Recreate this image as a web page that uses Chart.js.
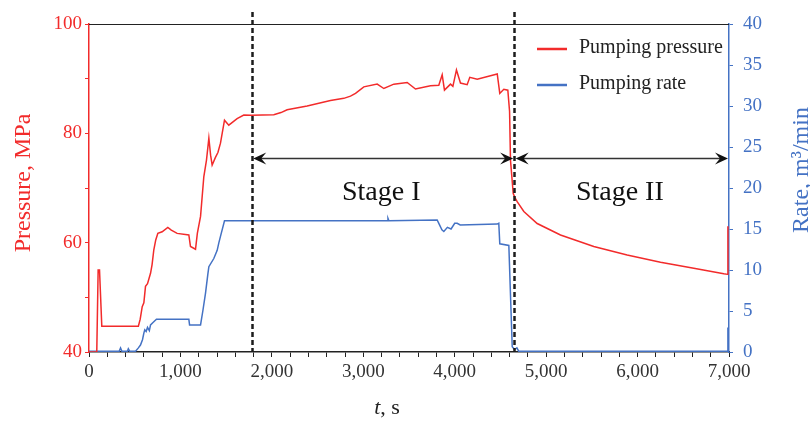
<!DOCTYPE html>
<html lang="en">
<head>
<meta charset="UTF-8">
<title>Pumping pressure and rate</title>
<style>
  body { margin: 0; background: #fff; }
  #wrap { width: 810px; height: 423px; position: relative; }
</style>
</head>
<body>
<div id="wrap"><canvas id="chart"></canvas></div>
<script src="https://cdn.jsdelivr.net/npm/chart.js@4"></script>
<script>
// pumping pressure, MPa, against time, s
const pressureT = [0, 85, 100, 115, 140, 540, 560, 582, 600, 618, 640, 673, 690, 709, 730, 753, 800, 862, 900, 964,
  1092, 1110, 1165, 1185, 1220, 1256, 1285, 1311, 1330, 1347, 1383, 1410, 1438, 1482, 1529, 1620, 1693, 1774,
  2021, 2100, 2167, 2386, 2641, 2787, 2860, 2915, 3006, 3152, 3225, 3334, 3480, 3571, 3735, 3826, 3863, 3888,
  3954, 3980, 4019, 4063, 4136, 4165, 4246, 4465, 4493, 4537, 4581, 4600, 4610, 4640, 4660, 4683, 4756, 4902,
  5157, 5521, 5886, 6251, 6615, 6943, 6985, 6988];
const pressureP = [40, 40, 55, 55, 44.7, 44.7, 46, 48.3, 49, 52, 52.5, 54.4, 56, 58.7, 60.5, 61.7, 62, 62.8, 62.3, 61.7,
  61.4, 59.3, 58.8, 61.7, 64.8, 72.1, 75.1, 79.1, 76, 74.2, 75.6, 76.5, 78.2, 82.4, 81.5, 82.7, 83.35, 83.3,
  83.4, 83.8, 84.3, 85.0, 86.0, 86.4, 86.8, 87.3, 88.5, 89.0, 88.2, 89.0, 89.3, 88.1, 88.7, 88.8, 90.7, 87.9,
  89.0, 88.6, 91.6, 89.2, 88.9, 90.25, 89.9, 90.85, 87.3, 88.05, 87.9, 84, 75.1, 69.0, 68.2, 67.5, 65.7, 63.5,
  61.4, 59.3, 57.75, 56.4, 55.3, 54.3, 54.2, 63];

// pumping rate, m3/min, against time, s
const rateT = [0, 330, 345, 360, 420, 430, 445, 509, 540, 563, 585, 600, 610, 625, 640, 660, 673, 700, 738,
  1092, 1100, 1220, 1245, 1274, 1300, 1311, 1365, 1402, 1420, 1438, 1482, 3260, 3270, 3280, 3808, 3830, 3860,
  3881, 3920, 3960, 4000, 4027, 4060, 4465, 4482, 4493, 4592, 4629, 4654, 4680, 4700, 6980, 6988];
const rateQ = [0.1, 0.1, 0.5, 0.1, 0.1, 0.4, 0.1, 0.1, 0.5, 0.85, 1.5, 2.3, 2.7, 2.5, 3.0, 2.6, 3.3, 3.6, 4.0,
  4.0, 3.3, 3.3, 5, 7.15, 9.5, 10.4, 11.4, 12.4, 13.3, 14.1, 16.0, 16.0, 16.3, 16.0, 16.1, 15.6, 14.9,
  14.7, 15.2, 15.0, 15.7, 15.7, 15.5, 15.6, 15.7, 13.2, 13.0, 0.65, 0.3, 0.5, 0.1, 0.1, 3];

const stageBounds = [1780, 4650, 7000];
const stageNames = ['Stage I', 'Stage II'];
const pressureLabels = [40, 60, 80, 100];
const timeLabels = [0, 1000, 2000, 3000, 4000, 5000, 6000, 7000];

const RED = '#f22b2b';
const BLUE = '#4472c4';
const SERIF = "'Liberation Serif', 'Times New Roman', serif";

function pts(xs, ys) {
  return xs.map((x, i) => ({ x: x, y: ys[i] }));
}

function arrowHead(ctx, x, y, dir) {
  ctx.beginPath();
  ctx.moveTo(x, y);
  ctx.lineTo(x - dir * 13, y - 6);
  ctx.lineTo(x - dir * 8, y);
  ctx.lineTo(x - dir * 13, y + 6);
  ctx.closePath();
  ctx.fill();
}

// dashed stage lines, arrows, stage names
const stages = {
  id: 'stages',
  afterDatasetsDraw(chart) {
    const { ctx, chartArea: a, scales } = chart;
    const sx = scales.x;
    ctx.save();
    ctx.strokeStyle = '#1c1c1c';
    ctx.lineWidth = 2.5;
    ctx.setLineDash([5, 3]);
    stageBounds.slice(0, 2).forEach(t => {
      const px = Math.round(sx.getPixelForValue(t)) + 0.5;
      ctx.beginPath();
      ctx.moveTo(px, a.top - 12);
      ctx.lineTo(px, a.bottom);
      ctx.stroke();
    });
    ctx.setLineDash([]);

    const ay = Math.round(scales.yP.getPixelForValue(75.5)) + 0.5;
    ctx.strokeStyle = '#333';
    ctx.fillStyle = '#111';
    ctx.lineWidth = 1.5;
    ctx.font = '28px ' + SERIF;
    ctx.textAlign = 'center';
    ctx.textBaseline = 'alphabetic';
    for (let i = 0; i < stageNames.length; i++) {
      const x0 = sx.getPixelForValue(stageBounds[i]) + 1.5;
      const x1 = sx.getPixelForValue(stageBounds[i + 1]) - 1;
      ctx.beginPath();
      ctx.moveTo(x0 + 6, ay);
      ctx.lineTo(x1 - 6, ay);
      ctx.stroke();
      arrowHead(ctx, x0, ay, -1);
      arrowHead(ctx, x1, ay, 1);
      ctx.fillText(stageNames[i], (x0 + x1) / 2 - 2, ay + 41);
    }
    ctx.restore();
  },
  afterDraw(chart) {
    const { ctx, chartArea: a } = chart;
    ctx.save();
    // top frame line
    ctx.strokeStyle = '#222';
    ctx.lineWidth = 1;
    ctx.beginPath();
    ctx.moveTo(a.left, a.top + 0.5);
    ctx.lineTo(a.right, a.top + 0.5);
    ctx.stroke();

    // legend inside the plot
    ctx.font = '20px ' + SERIF;
    ctx.textAlign = 'left';
    ctx.textBaseline = 'middle';
    chart.data.datasets.forEach((ds, i) => {
      const y = a.top + 25 + i * 36;
      ctx.strokeStyle = ds.borderColor;
      ctx.lineWidth = 2.5;
      ctx.beginPath();
      ctx.moveTo(a.right - 192, y);
      ctx.lineTo(a.right - 162, y);
      ctx.stroke();
      ctx.fillStyle = '#222';
      ctx.fillText(ds.label, a.right - 150, y - 1);
    });

    // axis titles
    ctx.textBaseline = 'alphabetic';
    ctx.textAlign = 'center';
    ctx.font = '24px ' + SERIF;
    ctx.fillStyle = RED;
    ctx.save();
    ctx.translate(30, 183);
    ctx.rotate(-Math.PI / 2);
    ctx.fillText('Pressure, MPa', 0, 0);
    ctx.restore();
    ctx.fillStyle = BLUE;
    ctx.save();
    ctx.translate(808, 170);
    ctx.rotate(-Math.PI / 2);
    ctx.fillText('Rate, m\u00b3/min', 0, 0);
    ctx.restore();

    ctx.fillStyle = '#222';
    ctx.textAlign = 'left';
    const it = 'italic 22px ' + SERIF, rg = '22px ' + SERIF;
    ctx.font = it;
    const w1 = ctx.measureText('t').width;
    ctx.font = rg;
    const w2 = ctx.measureText(', s').width;
    const x0 = 387 - (w1 + w2) / 2;
    ctx.font = it;
    ctx.fillText('t', x0, 414);
    ctx.font = rg;
    ctx.fillText(', s', x0 + w1, 414);
    ctx.restore();
  }
};

new Chart(document.getElementById('chart'), {
  type: 'line',
  data: {
    datasets: [
      { label: 'Pumping pressure', data: pts(pressureT, pressureP), yAxisID: 'yP',
        borderColor: RED, borderWidth: 1.5, pointRadius: 0, tension: 0 },
      { label: 'Pumping rate', data: pts(rateT, rateQ), yAxisID: 'yQ',
        borderColor: BLUE, borderWidth: 1.5, pointRadius: 0, tension: 0 }
    ]
  },
  options: {
    responsive: true,
    maintainAspectRatio: false,
    animation: false,
    layout: { padding: { top: 24, left: 0, right: 0, bottom: 0 } },
    plugins: { legend: { display: false }, tooltip: { enabled: false } },
    scales: {
      x: {
        type: 'linear', min: 0, max: 7000,
        afterFit: s => { s.height = 71; },
        border: { color: '#222', width: 1.5 },
        grid: { drawOnChartArea: false, tickLength: 5, color: '#222' },
        ticks: {
          stepSize: 200, autoSkip: false, maxRotation: 0, padding: 4,
          color: '#333', font: { family: SERIF, size: 19 },
          callback: v => timeLabels.includes(Math.round(v)) ? Math.round(v).toLocaleString('en-US') : ''
        }
      },
      yP: {
        position: 'left', min: 40, max: 100,
        afterFit: s => { s.width = 89; },
        border: { color: RED, width: 1.5 },
        grid: { drawOnChartArea: false, tickLength: 4, color: RED },
        ticks: {
          stepSize: 10, padding: 3, color: RED, font: { family: SERIF, size: 19 },
          callback: v => pressureLabels.includes(Math.round(v)) ? Math.round(v) : ''
        }
      },
      yQ: {
        position: 'right', min: 0, max: 40,
        afterFit: s => { s.width = 81; },
        border: { color: BLUE, width: 1.5 },
        grid: { drawOnChartArea: false, tickLength: 4, color: BLUE },
        ticks: { stepSize: 5, padding: 10, color: BLUE, font: { family: SERIF, size: 19 } }
      }
    }
  },
  plugins: [stages]
});
</script>
</body>
</html>
